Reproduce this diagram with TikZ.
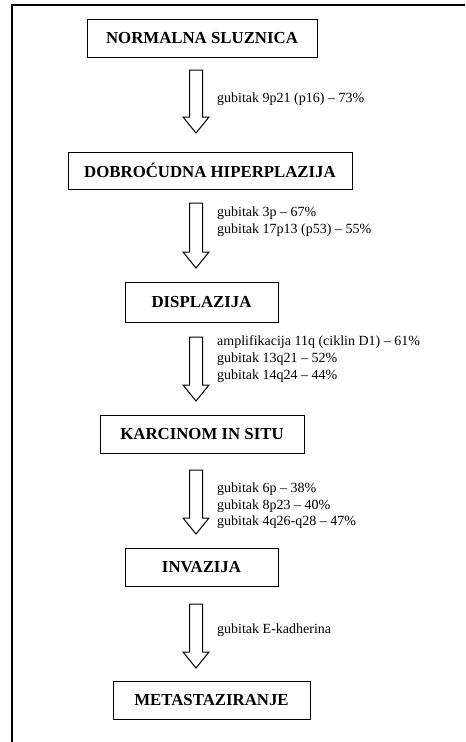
\documentclass[tikz,border=0pt]{standalone}
\usepackage{fontspec}
\setmainfont{Liberation Serif}
\usetikzlibrary{calc}
\tikzset{
  stage/.style={draw, line width=1pt, inner sep=0pt, minimum height=38,
    font=\fontsize{16.8}{20}\selectfont\bfseries},
  change/.style={anchor=west, align=left, inner sep=0pt,
    font=\fontsize{14}{16.6}\selectfont},
  fatarrow/.style={draw, line width=1pt, line join=miter}
}
\begin{document}
\begin{tikzpicture}[x=1pt, y=-1pt]
      \useasboundingbox (0,0) rectangle (466,742);
      \draw[line width=1.3pt] (12,742) -- (12,5) -- (465,5);
      % stages
      \node[stage, minimum width=230] (normal) at (202,38) {NORMALNA SLUZNICA};
      \node[stage, minimum width=284, minimum height=37] (hiper) at (210,170.5) {DOBROĆUDNA HIPERPLAZIJA};
      \node[stage, minimum width=153, minimum height=40] (displ) at (201.5,302) {DISPLAZIJA};
      \node[stage, minimum width=204] (karc) at (202,434.5) {KARCINOM IN SITU};
      \node[stage, minimum width=153] (invaz) at (201.5,567) {INVAZIJA};
      \node[stage, minimum width=197] (metast) at (211.5,700) {METASTAZIRANJE};
      % block arrows
      \foreach \i/\t/\e in {1/70/133, 2/203/268, 3/337/401, 4/470/534, 5/604/668} {
        \coordinate (top\i) at (196,\t);
        \coordinate (tip\i) at (196,\e);
        \draw[fatarrow] ($(top\i)+(-6.5,0)$) -- ($(tip\i)+(-6.5,-16)$) -- ($(tip\i)+(-13,-16)$)
          -- (tip\i) -- ($(tip\i)+(13,-16)$) -- ($(tip\i)+(6.5,-16)$) -- ($(top\i)+(6.5,0)$) -- cycle;
      }
      % genetic changes
      \node[change] (l1) at (217,99) {gubitak 9p21 (p16) -- 73\%};
      \node[change] (l2) at (217,221.5) {gubitak 3p -- 67\%\\gubitak 17p13 (p53) -- 55\%};
      \node[change] (l3) at (217,359) {amplifikacija 11q (ciklin D1) -- 61\%\\gubitak 13q21 -- 52\%\\gubitak 14q24 -- 44\%};
      \node[change] (l4) at (217,506) {gubitak 6p -- 38\%\\gubitak 8p23 -- 40\%\\gubitak 4q26-q28 -- 47\%};
      \node[change] (l5) at (217,630) {gubitak E-kadherina};
    \end{tikzpicture}
\end{document}
